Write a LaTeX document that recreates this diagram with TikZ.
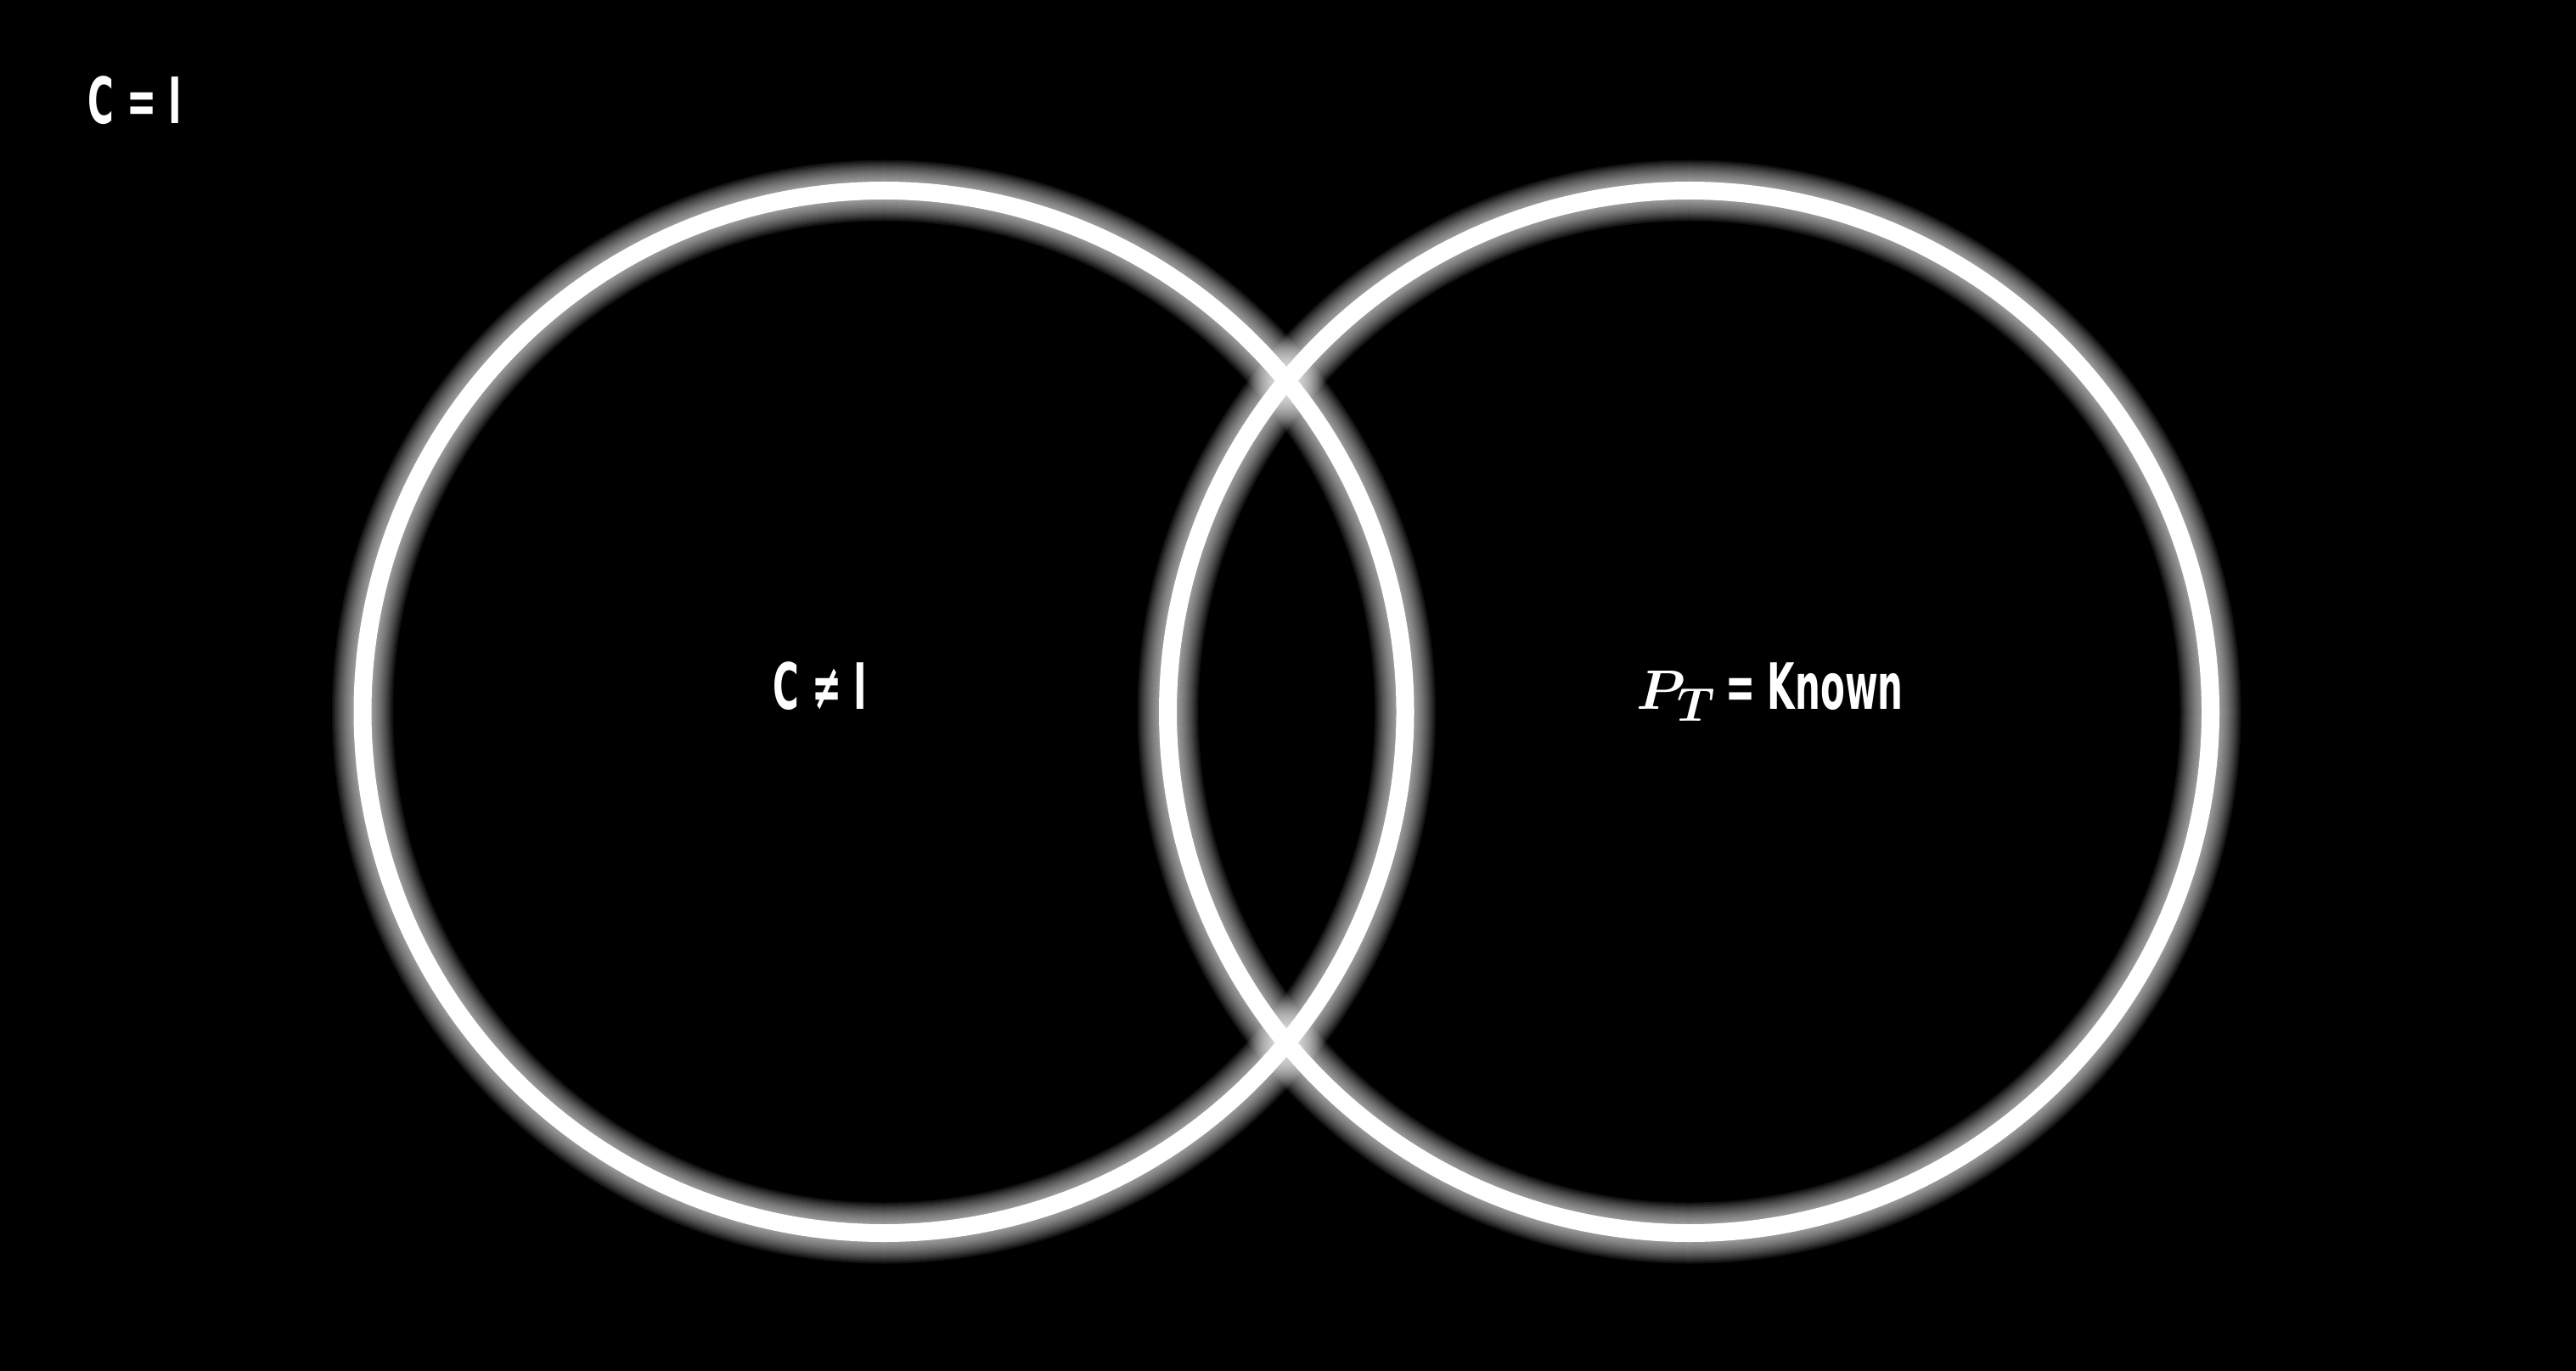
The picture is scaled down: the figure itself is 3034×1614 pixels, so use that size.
\documentclass[tikz,border=0pt]{standalone}
\usepackage{fontspec}
\usepackage{graphicx}
\newfontfamily\vennfont{DejaVu Sans Condensed}[FakeStretch=0.62]
\usetikzlibrary{positioning}

\begin{document}
\begin{tikzpicture}[
  x=0.1mm, y=0.1mm,
  ring/.style={draw=white, line width=2.1mm},
  glow/.style={draw=white, opacity=0.07},
  lbl/.style={text=white, inner sep=0pt, anchor=base west,
    font=\vennfont\bfseries\boldmath\fontsize{21.4pt}{24pt}\selectfont}
]
  \useasboundingbox (0,0) rectangle (3034,1614);
  \fill[black] (-20,-20) rectangle (3054,1634);
  \coordinate (cl) at (1041,775.5);
  \coordinate (cr) at (1989.5,775.5);
  \foreach \w in {72,68,...,24} {
    \draw[glow, line width=\w*0.1mm] (cl) circle (614);
    \draw[glow, line width=\w*0.1mm] (cr) circle (614);
  }
  \draw[ring] (cl) circle (614);
  \draw[ring] (cr) circle (614);
  \node[lbl] (eq) at (103,1468) {C = I};
  \node[lbl] (neq) at (910,779) {C ≠ I};
  \node[lbl] (known) at (1927,779) {\scalebox{0.9}{$P_{\scalebox{0.85}{$T$}}$}\kern-1pt{} = Known};
\end{tikzpicture}
\end{document}
